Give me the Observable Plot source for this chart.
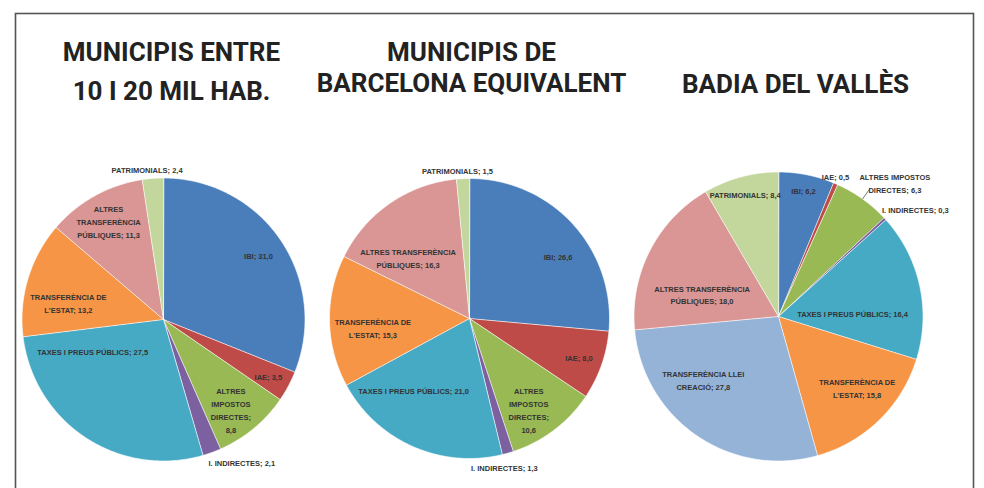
<!DOCTYPE html>
<html><head><meta charset="utf-8">
<script src="https://cdn.jsdelivr.net/npm/d3@7"></script>
<script src="https://cdn.jsdelivr.net/npm/@observablehq/plot@0.6"></script>
<style>html,body{margin:0;padding:0;background:#fff;overflow:hidden}</style>
</head><body><div id="chart"></div>
<script>
// ---- DATA ----
const categories = ["IBI", "IAE", "ALTRES IMPOSTOS DIRECTES", "I. INDIRECTES", "TAXES I PREUS PÚBLICS",
  "TRANSFERÈNCIA DE L'ESTAT", "TRANSFERÈNCIA LLEI CREACIÓ", "ALTRES TRANSFERÈNCIA PÚBLIQUES", "PATRIMONIALS"];
const municipis10a20Mil      = [31.0, 3.5, 8.8, 2.1, 27.5, 13.2, 0, 11.3, 2.4];
const municipisBcnEquivalent = [26.6, 8.0, 10.6, 1.3, 21.0, 15.3, 0, 16.3, 1.5];
const badiaDelValles         = [6.2, 0.5, 6.3, 0.3, 16.4, 15.8, 27.8, 18.0, 8.4];
const panelTitles = [["MUNICIPIS ENTRE", "10 I 20 MIL HAB."], ["MUNICIPIS DE", "BARCELONA EQUIVALENT"], ["BADIA DEL VALLÈS"]];

// ---- STYLE / LAYOUT ----
const categoryColors = ["#4A7EBB", "#BE4B48", "#98B954", "#7D60A0", "#46AAC5", "#F69546", "#95B3D7", "#D99694", "#C3D69B"];
const pieLayout = [
  {cx: 163, cy: 319, r: 141.5, titleX: 171, baselines: [60, 99]},
  {cx: 469, cy: 318, r: 140, titleX: 471, baselines: [60, 91]},
  {cx: 778, cy: 316, r: 144.5, titleX: 795, baselines: [92]}
];
// per pie, per category: radial factor k, offset dx/dy, words per line
const labelLayout = [
  [
    {k: 0.81, dx: 0, dy: 0, lines: [3]},
    {k: 0.84, dx: 0, dy: 0, lines: [3]},
    {k: 0.79, dx: -4, dy: 4, lines: [1, 1, 1, 1]},
    {k: 1.14, dx: 23, dy: -9, lines: [3]},
    {k: 0.46, dx: -35, dy: -23, lines: [6]},
    {k: 0.68, dx: -3, dy: 11, lines: [2, 2]},
    null,
    {k: 0.80, dx: 0, dy: 0, lines: [1, 1, 2]},
    {k: 1.07, dx: -5, dy: 0, lines: [2]}
  ],
  [
    {k: 0.77, dx: 9, dy: 10, lines: [3]},
    {k: 0.83, dx: 0, dy: 0, lines: [3]},
    {k: 0.77, dx: -6, dy: 5, lines: [1, 1, 1, 1]},
    {k: 1.09, dx: -7, dy: 2, lines: [3]},
    {k: 0.63, dx: -20, dy: -9, lines: [6]},
    {k: 0.69, dx: 0, dy: 7, lines: [2, 2]},
    null,
    {k: 0.61, dx: -13, dy: 9, lines: [2, 2]},
    {k: 1.06, dx: -5, dy: 0, lines: [2]}
  ],
  [
    {k: 0.89, dx: 0, dy: 0, lines: [2]},
    {k: 1.05, dx: -3, dy: -1, lines: [2]},
    {k: 1.23, dx: 13, dy: 10, lines: [2, 2], leader: true},
    {k: 1.20, dx: 9, dy: 10, lines: [3]},
    {k: 0.51, dx: 2, dy: 12, lines: [6]},
    {k: 0.73, dx: 5, dy: -5, lines: [2, 2]},
    {k: 0.65, dx: -22, dy: -15, lines: [2, 2]},
    {k: 0.54, dx: -7, dy: 13, lines: [2, 2]},
    {k: 0.88, dx: 0, dy: 0, lines: [2]}
  ]
];

const fmt = v => v.toFixed(1).replace(".", ",");
const polar = (L, a, k) => [L.cx + k * L.r * Math.sin(a), L.cy - k * L.r * Math.cos(a)];

const series = [municipis10a20Mil, municipisBcnEquivalent, badiaDelValles];
const slices = [], labels = [], leaders = [], titles = [];

series.forEach((vals, p) => {
  const L = pieLayout[p];
  const items = categories.map((c, i) => ({category: c, value: vals[i], i})).filter(d => d.value > 0);
  const arcs = d3.pie().sort(null).value(d => d.value)(items);
  arcs.forEach(a => {
    const pts = [[L.cx, L.cy]];
    const n = Math.max(2, Math.ceil((a.endAngle - a.startAngle) / (Math.PI / 180)));
    for (let j = 0; j <= n; j++) {
      const t = a.startAngle + (a.endAngle - a.startAngle) * j / n;
      pts.push(polar(L, t, 1));
    }
    pts.push([L.cx, L.cy]);
    slices.push({type: "Feature", properties: {color: categoryColors[a.data.i]},
      geometry: {type: "Polygon", coordinates: [pts]}});
    const lab = labelLayout[p][a.data.i];
    if (!lab) return;
    const mid = (a.startAngle + a.endAngle) / 2;
    const [x, y] = polar(L, mid, lab.k);
    const words = `${a.data.category}; ${fmt(a.data.value)}`.split(" ");
    const out = []; let w = 0;
    lab.lines.forEach((cnt, li) => {
      const take = li === lab.lines.length - 1 ? words.length - w : cnt;
      out.push(words.slice(w, w + take).join(" ")); w += take;
    });
    labels.push({x: x + lab.dx, y: y + lab.dy, text: out.join("\n")});
    if (lab.leader) {
      const [x1, y1] = polar(L, mid, 1.0);
      const [x2, y2] = polar(L, mid, 1.08);
      leaders.push({x1, y1, x2, y2});
    }
  });
  panelTitles[p].forEach((t, li) => titles.push({x: L.titleX, y: L.baselines[li] - 0.32 * 26, text: t}));
});

const chart = Plot.plot({
  width: 984, height: 488, margin: 0,
  projection: {type: "identity"},
  color: {type: "identity"},
  style: {background: "white"},
  marks: [
    Plot.frame({stroke: "#555", strokeWidth: 1.6, insetLeft: 15, insetTop: 13, insetRight: 11, insetBottom: -10}),
    Plot.geo(slices, {fill: d => d.properties.color, stroke: "white", strokeWidth: 0.6}),
    Plot.link(leaders, {x1: "x1", y1: "y1", x2: "x2", y2: "y2", stroke: "#555", strokeWidth: 0.8}),
    Plot.text(labels, {x: "x", y: "y", text: "text", fontSize: 7.5, fontWeight: 700,
      fontFamily: "Liberation Sans", fill: "#333", lineHeight: 1.73}),
    Plot.text(titles, {x: "x", y: "y", text: "text", fontSize: 26, fontWeight: 700,
      fontFamily: "Roboto", fill: "#222"})
  ]
});
document.getElementById("chart").appendChild(chart);
</script>
</body></html>
